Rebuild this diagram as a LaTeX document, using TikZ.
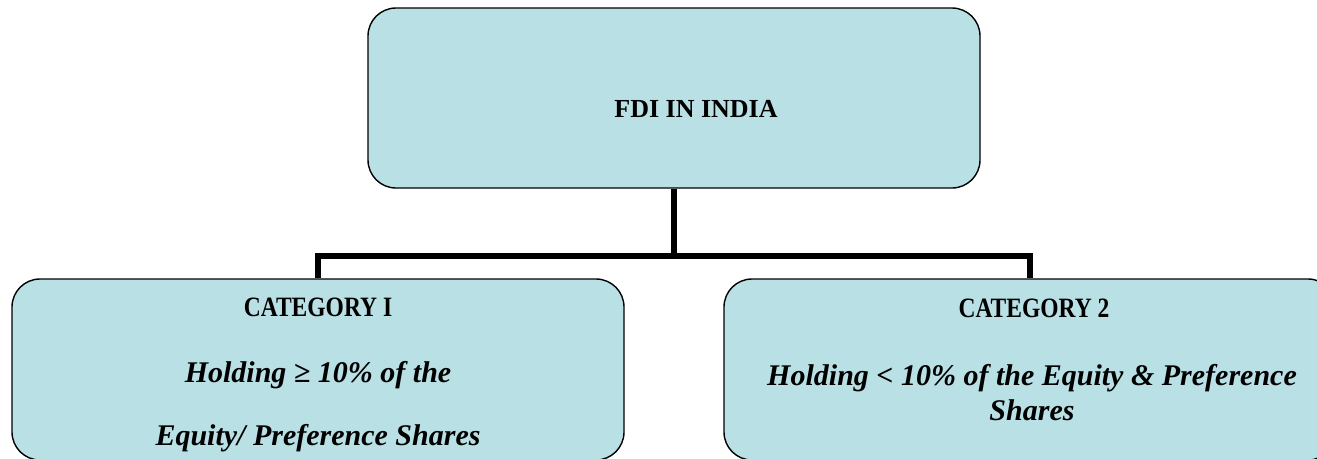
\documentclass[tikz,border=0pt]{standalone}
\usepackage{fontspec}
\setmainfont{Liberation Serif}
\newfontface\capsface[FakeStretch=0.84]{Liberation Serif Bold}
\usetikzlibrary{positioning}
\definecolor{boxblue}{RGB}{185,224,228}

\begin{document}
\begin{tikzpicture}[x=1pt,y=-1pt,
		box/.style={draw,line width=1.4pt,fill=boxblue,rounded corners=28pt,
			minimum width=612pt,inner sep=0pt},
		head/.style={font=\fontsize{28}{28}\capsface,anchor=base,inner sep=0pt},
		title/.style={font=\fontsize{26}{26}\selectfont\bfseries,anchor=base,inner sep=0pt},
		body/.style={font=\fontsize{30}{36}\selectfont\bfseries\itshape,anchor=base,inner sep=0pt},
		link/.style={line width=6pt}]
		\clip (0,0) rectangle (1317,458);
		
		\node[box,minimum height=180pt] (fdi)  at (674,98)    {};
		\node[box,minimum height=181pt] (cat1) at (318,369.5) {};
		\node[box,minimum height=181pt] (cat2) at (1030,369.5) {};
		\coordinate (bar) at (674,256);
		
		\node[title] (fditxt) at (696,117) {FDI IN INDIA};
		
		\node[head] (cat1txt) at (318,316) {CATEGORY I};
		\node[body] (cat1a)   at (318,382) {Holding ≥ 10\% of the};
		\node[body] (cat1b)   at (318,445) {Equity/ Preference Shares};
		
		\node[head] (cat2txt) at (1034,317) {CATEGORY 2};
		\node[body] (cat2a)   at (1032,385) {Holding < 10\% of the Equity \& Preference};
		\node[body] (cat2b)   at (1032,420) {Shares};
		
		\draw[link] (fdi.south) -- (bar);
		\draw[link] (cat1.north) |- (bar) -| (cat2.north);
\end{tikzpicture}
\end{document}
